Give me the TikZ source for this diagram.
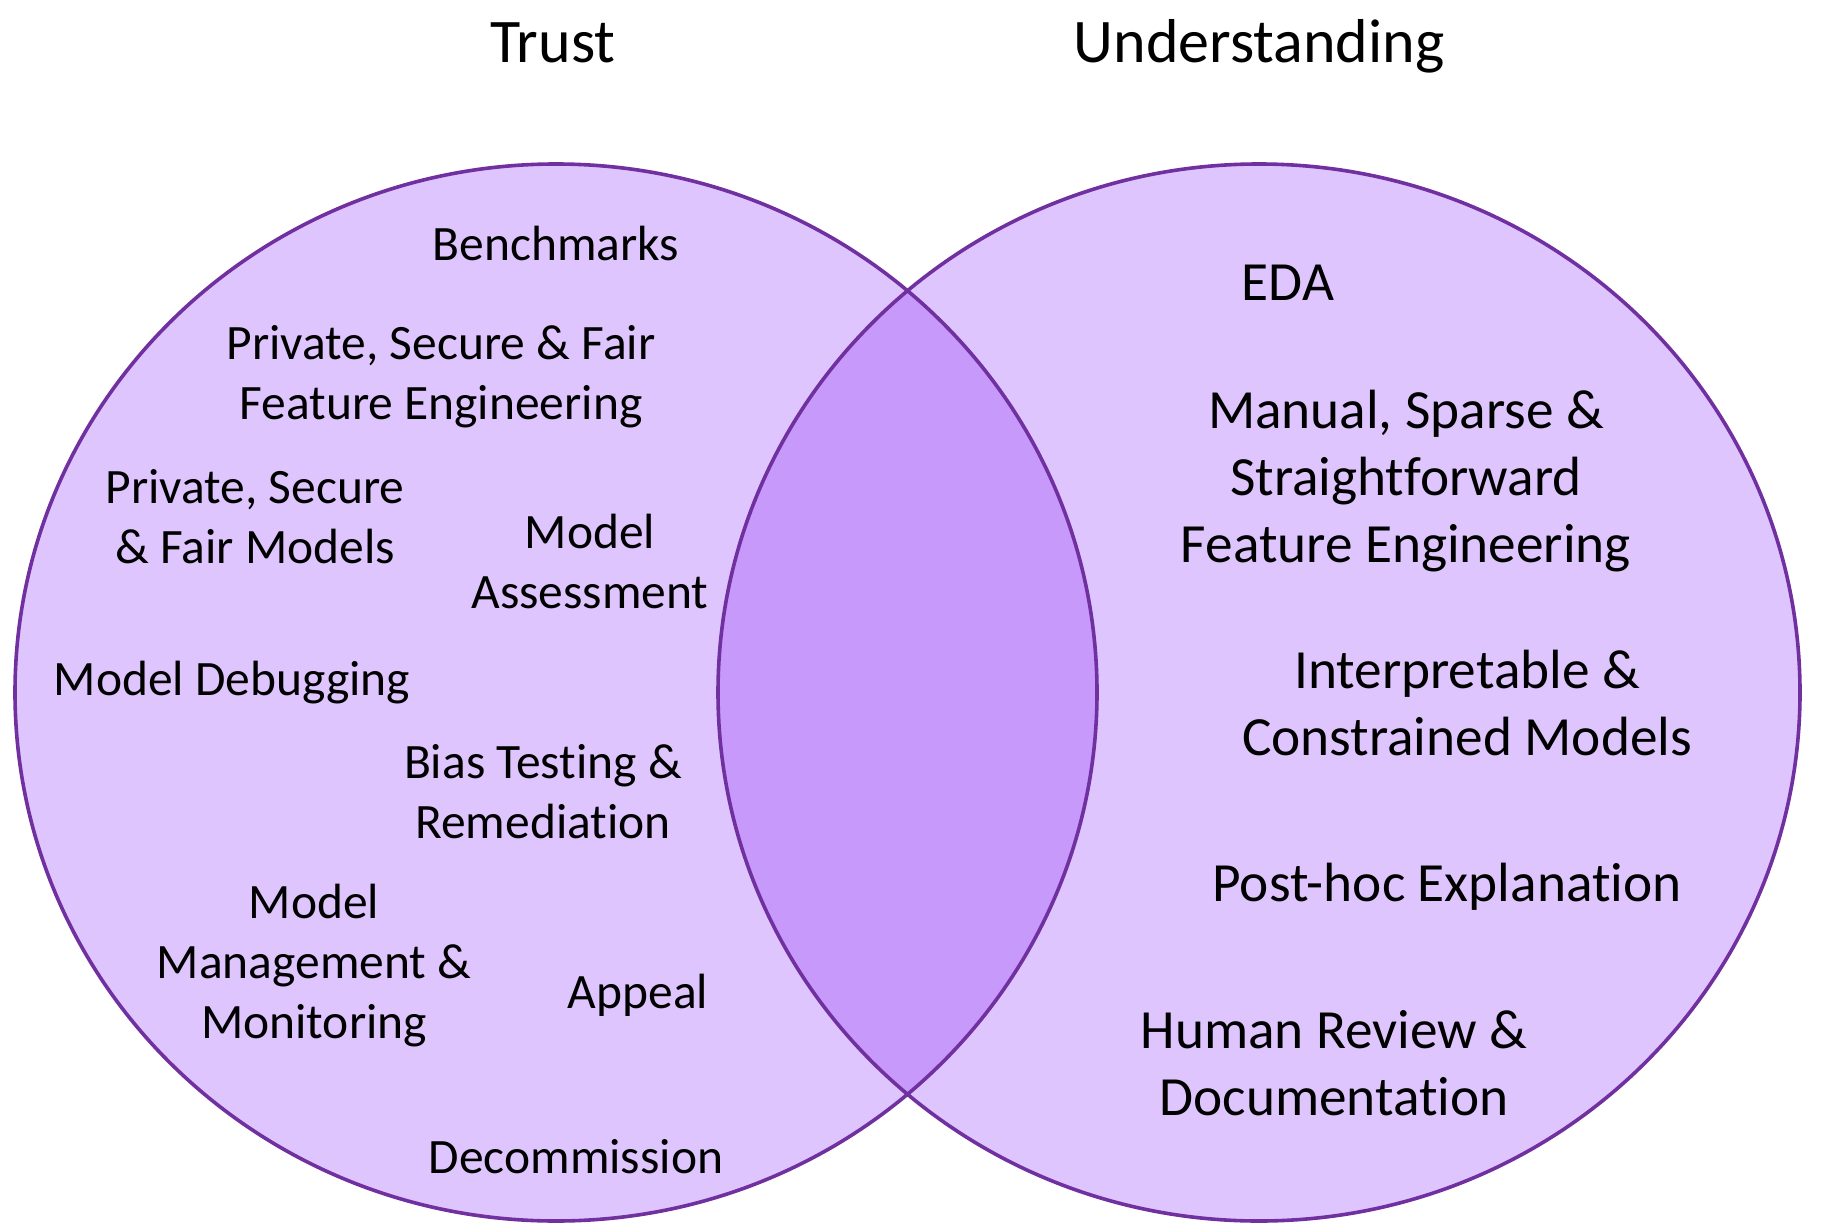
\documentclass[tikz,border=0pt]{standalone}
\usepackage{fontspec}
\setmainfont{Carlito}[Ligatures=NoCommon]
\definecolor{setfill}{HTML}{DFC5FE}
\definecolor{overlapfill}{HTML}{C699FB}
\definecolor{setline}{HTML}{7030A0}
\begin{document}
\begin{tikzpicture}[x=1pt,y=-1pt,
  setshape/.style={draw=setline,line width=3.6pt},
  heading/.style={inner sep=0pt,anchor=base,font=\fontsize{62}{74}\selectfont},
  lefttext/.style={inner sep=0pt,anchor=base,align=center,font=\fontsize{49.5}{60}\selectfont},
  righttext/.style={inner sep=0pt,anchor=base,align=center,font=\fontsize{55.3}{67}\selectfont}]
  \useasboundingbox (0,0) rectangle (1825,1231);
  \coordinate (trustc) at (556,692.5);
  \coordinate (undc) at (1259,692.5);
  % set fills
  \fill[setfill] (trustc) ellipse [x radius=541, y radius=528.5];
  \fill[setfill] (undc) ellipse [x radius=541, y radius=528.5];
  % intersection
  \begin{scope}
    \clip (trustc) ellipse [x radius=541, y radius=528.5];
    \fill[overlapfill] (undc) ellipse [x radius=541, y radius=528.5];
  \end{scope}
  % outlines
  \draw[setshape] (trustc) ellipse [x radius=541, y radius=528.5];
  \draw[setshape] (undc) ellipse [x radius=541, y radius=528.5];
  % headings
  \node[heading] (trust) at (553,63) {Trust};
  \node[heading] (understanding) at (1259,63) {Understanding};
  % trust items (base = baseline of the last line)
  \node[lefttext] (bench) at (556,260) {Benchmarks};
  \node[lefttext] (psffe) at (441,419) {Private, Secure \& Fair\\Feature Engineering};
  \node[lefttext] (psfm) at (255,563) {Private, Secure\\\& Fair Models};
  \node[lefttext] (assess) at (590,608) {Model\\Assessment};
  \node[lefttext] (debug) at (232,695) {Model Debugging};
  \node[lefttext] (bias) at (543,838) {Bias Testing \&\\Remediation};
  \node[lefttext] (manage) at (314,1038) {Model\\Management \&\\Monitoring};
  \node[lefttext] (appeal) at (638,1008) {Appeal};
  \node[lefttext] (decom) at (576,1173) {Decommission};
  % understanding items
  \node[righttext] (eda) at (1288,300) {EDA};
  \node[righttext] (manual) at (1406,562) {Manual, Sparse \&\\Straightforward\\Feature Engineering};
  \node[righttext] (interp) at (1467,755) {Interpretable \&\\Constrained Models};
  \node[righttext] (posthoc) at (1447,901) {Post-hoc Explanation};
  \node[righttext] (review) at (1334,1115) {Human Review \&\\Documentation};
\end{tikzpicture}
\end{document}
